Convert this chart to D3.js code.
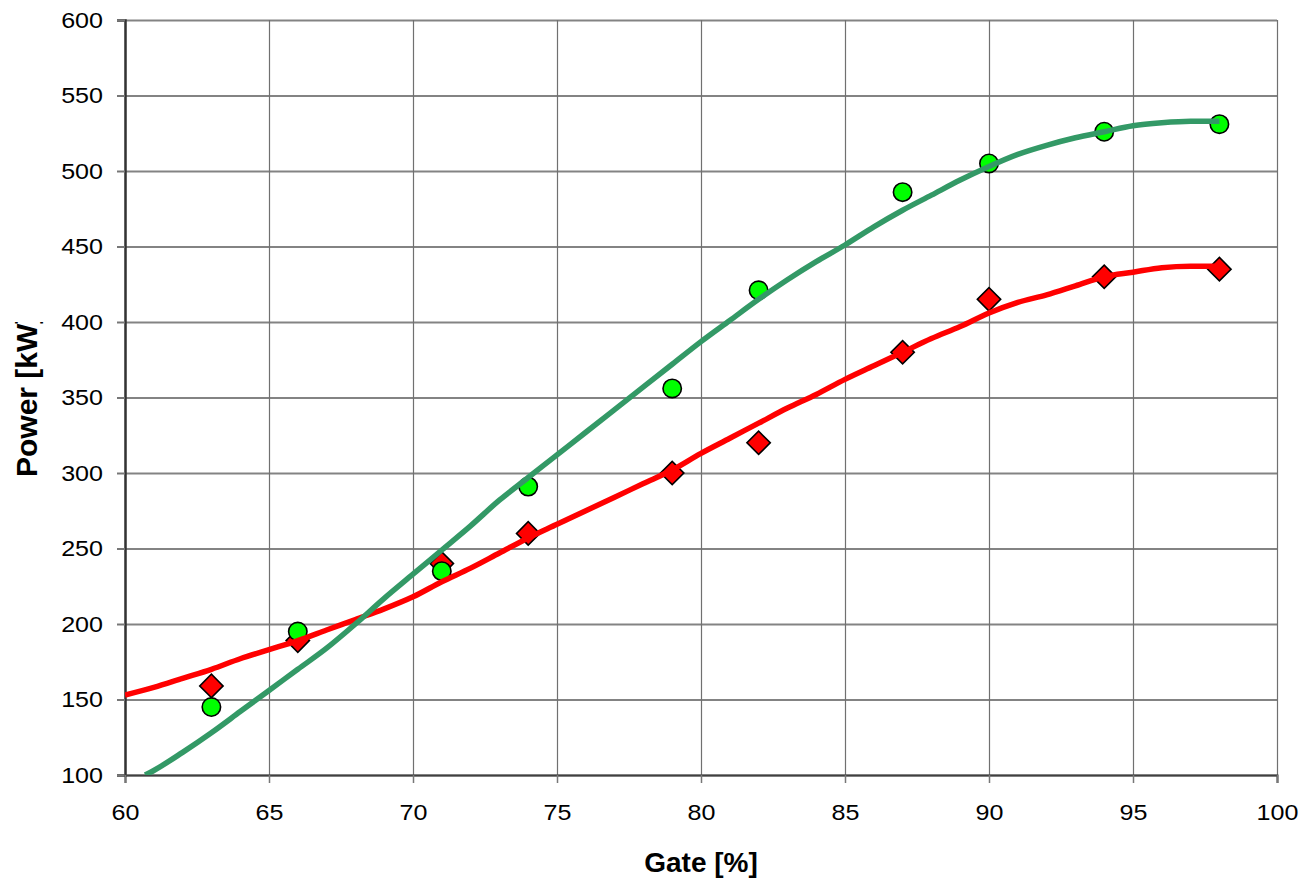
<!DOCTYPE html>
<html>
<head>
<meta charset="utf-8">
<script src="https://cdn.jsdelivr.net/npm/d3@7"></script>
<style>
  html, body { margin: 0; padding: 0; background: #fff; }
  svg { display: block; }
  text { font-family: "Liberation Sans", Arial, sans-serif; fill: #000; }
</style>
</head>
<body>
<svg id="chart" width="1305" height="881"></svg>
<script>
// ---- Data ----
const xTicks = [60, 65, 70, 75, 80, 85, 90, 95, 100];
const yTicks = [100, 150, 200, 250, 300, 350, 400, 450, 500, 550, 600];

// Measured points
const gateMeasured = [63, 66, 71, 74, 79, 82, 87, 90, 94, 98];
const powerCircles = [145, 195, 235, 291, 356, 421, 486, 505, 526, 531];
const powerDiamonds = [159, 189, 240, 260, 300, 320, 380, 415, 430, 435];

// Fitted curves
const gateGreenLine = [60.7, 61, 62, 63, 64, 65, 66, 67, 68, 69, 70, 71, 72, 73, 74, 75, 76, 77, 78, 79, 80, 81, 82, 83, 84, 85, 86, 87, 88, 89, 90, 91, 92, 93, 94, 95, 96, 97, 98];
const powerGreenLine = [100, 103, 115, 128, 142, 156, 170, 184, 200, 217, 233, 249, 265, 282, 297, 312, 327, 342, 357, 372, 387, 401, 415, 428, 440, 451, 463, 474, 484, 494, 503, 511, 517, 522, 526, 530, 532, 533, 533];
const gateRedLine = [60, 61, 62, 63, 64, 65, 66, 67, 68, 69, 70, 71, 72, 73, 74, 75, 76, 77, 78, 79, 80, 81, 82, 83, 84, 85, 86, 87, 88, 89, 90, 91, 92, 93, 94, 95, 96, 97, 98];
const powerRedLine = [153, 158, 164, 170, 177, 183, 189, 196, 203, 210, 218, 228, 237, 247, 257, 266, 275, 284, 293, 302, 313, 323, 333, 343, 352, 362, 371, 380, 389, 397, 406, 413, 418, 424, 430, 433, 436, 437, 437];

const xTitle = "Gate [%]";
const yTitle = "Power [kW]";

// ---- Layout ----
const svg = d3.select("#chart");
const mLeft = 125, mRight = 1277, mTop = 20, mBottom = 775;

const x = d3.scaleLinear().domain([60, 100]).range([mLeft, mRight]);
const y = d3.scaleLinear().domain([100, 600]).range([mBottom, mTop]);

const defs = svg.append("defs");
defs.append("clipPath").attr("id", "plotClip")
  .append("rect").attr("x", mLeft).attr("y", mTop)
  .attr("width", mRight - mLeft).attr("height", mBottom - mTop);

// Horizontal gridlines
svg.append("g")
  .attr("transform", `translate(${mLeft},0)`)
  .call(d3.axisLeft(y).tickValues(yTicks).tickSize(-(mRight - mLeft)).tickFormat(""))
  .call(g => g.select(".domain").remove())
  .call(g => g.selectAll("line").attr("stroke", "#838383").attr("stroke-width", 2));

// Vertical gridlines
svg.append("g")
  .attr("transform", `translate(0,${mBottom})`)
  .call(d3.axisBottom(x).tickValues(xTicks).tickSize(-(mBottom - mTop)).tickFormat(""))
  .call(g => g.select(".domain").remove())
  .call(g => g.selectAll("line").attr("stroke", "#707070").attr("stroke-width", 1.2));

// Y axis with ticks and labels
const sx = 1.14;
const yAxis = svg.append("g")
  .attr("transform", `translate(${mLeft},0)`)
  .call(d3.axisLeft(y).tickValues(yTicks).tickSize(8).tickPadding(0).tickFormat(d3.format("d")));
yAxis.select(".domain").attr("stroke", "#333").attr("stroke-width", 2.5);
yAxis.selectAll(".tick line").attr("stroke", "#777").attr("stroke-width", 2);
yAxis.selectAll(".tick text")
  .attr("font-size", 22)
  .attr("font-family", "Liberation Sans, Arial, sans-serif")
  .attr("fill", "#000")
  .attr("text-anchor", "end")
  .attr("x", -22 / sx)
  .attr("dy", "0.32em")
  .attr("transform", `scale(${sx},1)`);

// X axis with ticks and labels
const xAxis = svg.append("g")
  .attr("transform", `translate(0,${mBottom})`)
  .call(d3.axisBottom(x).tickValues(xTicks).tickSize(8).tickPadding(0).tickFormat(d3.format("d")));
xAxis.select(".domain").attr("stroke", "#404040").attr("stroke-width", 2);
xAxis.selectAll(".tick line").attr("stroke", "#777").attr("stroke-width", 1.5);
xAxis.selectAll(".tick text")
  .attr("font-size", 22)
  .attr("font-family", "Liberation Sans, Arial, sans-serif")
  .attr("fill", "#000")
  .attr("text-anchor", "middle")
  .attr("y", 45)
  .attr("dy", 0)
  .attr("transform", `scale(${sx},1)`);

// Markers: diamonds then circles
const diamond = d3.symbol().type(d3.symbolSquare).size(16.5 * 16.5);
const pts = svg.append("g");
pts.selectAll("path.dia")
  .data(gateMeasured.map((g, i) => [g, powerDiamonds[i]]))
  .join("path")
  .attr("class", "dia")
  .attr("d", diamond)
  .attr("transform", d => `translate(${x(d[0])},${y(d[1])}) rotate(45)`)
  .attr("fill", "#ff0000")
  .attr("stroke", "#000")
  .attr("stroke-width", 1.6);

pts.selectAll("circle")
  .data(gateMeasured.map((g, i) => [g, powerCircles[i]]))
  .join("circle")
  .attr("cx", d => x(d[0]))
  .attr("cy", d => y(d[1]))
  .attr("r", 9.2)
  .attr("fill", "#00ff00")
  .attr("stroke", "#000")
  .attr("stroke-width", 1.6);

// Lines on top
const line = d3.line().x(d => x(d[0])).y(d => y(d[1])).curve(d3.curveMonotoneX);
const lines = svg.append("g").attr("clip-path", "url(#plotClip)");
lines.append("path")
  .datum(gateRedLine.map((g, i) => [g, powerRedLine[i]]))
  .attr("d", line)
  .attr("fill", "none")
  .attr("stroke", "#ff0000")
  .attr("stroke-width", 5.5);
lines.append("path")
  .datum(gateGreenLine.map((g, i) => [g, powerGreenLine[i]]))
  .attr("d", line)
  .attr("fill", "none")
  .attr("stroke", "#339966")
  .attr("stroke-width", 5.5);

// Axis titles
svg.append("text")
  .attr("x", (mLeft + mRight) / 2)
  .attr("y", 872)
  .attr("text-anchor", "middle")
  .attr("font-size", 28)
  .attr("font-weight", "bold")
  .text(xTitle);

defs.append("clipPath").attr("id", "yTitleClip")
  .append("rect").attr("x", 0).attr("y", 322).attr("width", 80).attr("height", 400);

svg.append("g").attr("clip-path", "url(#yTitleClip)")
  .append("text")
  .attr("transform", "translate(37,477) rotate(-90)")
  .attr("text-anchor", "start")
  .attr("font-size", 30)
  .attr("font-weight", "bold")
  .text(yTitle);
</script>
</body>
</html>
